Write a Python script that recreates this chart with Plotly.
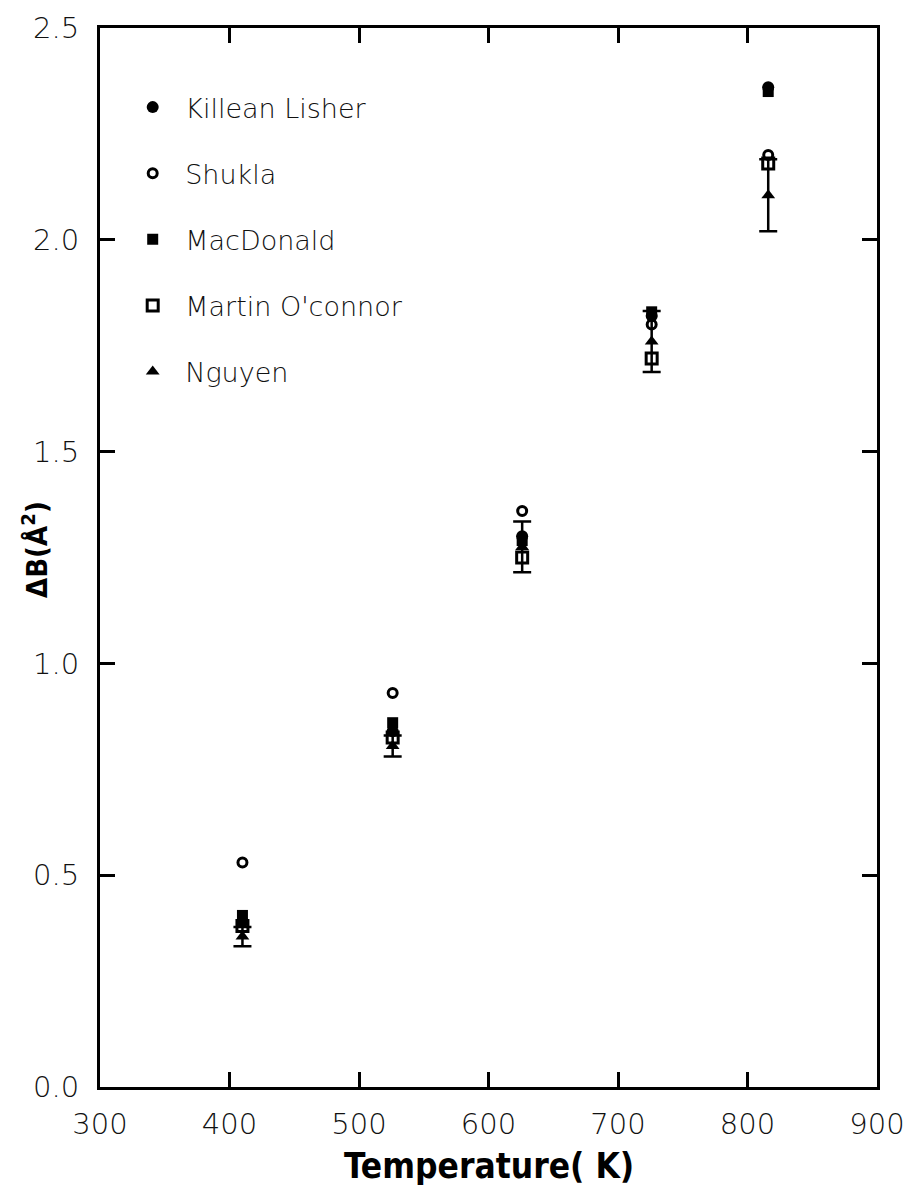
import plotly.graph_objects as go

temps = [410, 526, 626, 726, 816]
killean = [0.39, 0.84, 1.30, 1.82, 2.36]
shukla = [0.53, 0.93, 1.36, 1.80, 2.20]
macdonald = [0.405, 0.86, 1.29, 1.83, 2.35]
martin = [0.38, 0.825, 1.25, 1.72, 2.18]
nguyen = [0.355, 0.805, 1.275, 1.76, 2.105]
nguyen_err = [0.023, 0.025, 0.06, 0.072, 0.085]

x_ticks = [300, 400, 500, 600, 700, 800, 900]
y_ticks = [0.0, 0.5, 1.0, 1.5, 2.0, 2.5]

fig = go.Figure()

def add(name, y, symbol, size, lw=0, err=None):
    tr = dict(
        x=temps, y=y, mode="markers", name=name, legendgroup=name,
        marker=dict(symbol=symbol, size=size, color="black",
                    line=dict(color="black", width=lw)),
    )
    if err is not None:
        tr["error_y"] = dict(type="data", array=err, visible=True,
                             color="black", thickness=2.5, width=9)
    fig.add_trace(go.Scatter(**tr))

add("Killean Lisher", killean, "circle", 12)
add("Shukla", shukla, "circle-open", 9, 3)
add("MacDonald", macdonald, "square", 11)
add("Martin O'connor", martin, "square-open", 11, 3)
add("Nguyen", nguyen, "triangle-up", 12, 0, nguyen_err)

tickfont = dict(family="DejaVu Sans", size=29, color="#111", weight=200)
axis_common = dict(ticks="inside", ticklen=15, tickwidth=2.5, tickcolor="black",
                   showline=True, linecolor="black", linewidth=3, mirror="ticks",
                   showgrid=False, zeroline=False, tickfont=tickfont,
                   automargin=False)
fig.update_layout(
    width=905, height=1178,
    paper_bgcolor="white", plot_bgcolor="white",
    margin=dict(l=92, r=36, t=20, b=99),
    font=dict(family="DejaVu Sans", color="black"),
    showlegend=True,
    legend=dict(x=0.026, y=0.948, xanchor="left", yanchor="top",
                font=dict(family="DejaVu Sans", size=27, color="#111", weight=200),
                tracegroupgap=28, bgcolor="rgba(0,0,0,0)",
                itemsizing="trace", itemwidth=55),
    xaxis=dict(range=[300, 900], tickvals=x_ticks, ticklabelstandoff=9,
               **axis_common),
    yaxis=dict(range=[0, 2.5], tickvals=y_ticks, tickformat=".1f",
               ticklabelstandoff=12, **axis_common),
    annotations=[
        dict(text="<b>Temperature( K)</b>", xref="paper", yref="paper",
             x=0.5, y=-0.0746, xanchor="center", yanchor="middle",
             showarrow=False,
             font=dict(family="DejaVu Sans Condensed", size=35, color="black")),
        dict(text="<b>ΔB(Å<sup>2</sup>)</b>", xref="paper", yref="paper",
             x=-0.0837, y=0.508, xanchor="center", yanchor="middle",
             textangle=-90, showarrow=False,
             font=dict(family="DejaVu Sans Condensed", size=29, color="black")),
    ],
)

fig.write_html("out.html")
